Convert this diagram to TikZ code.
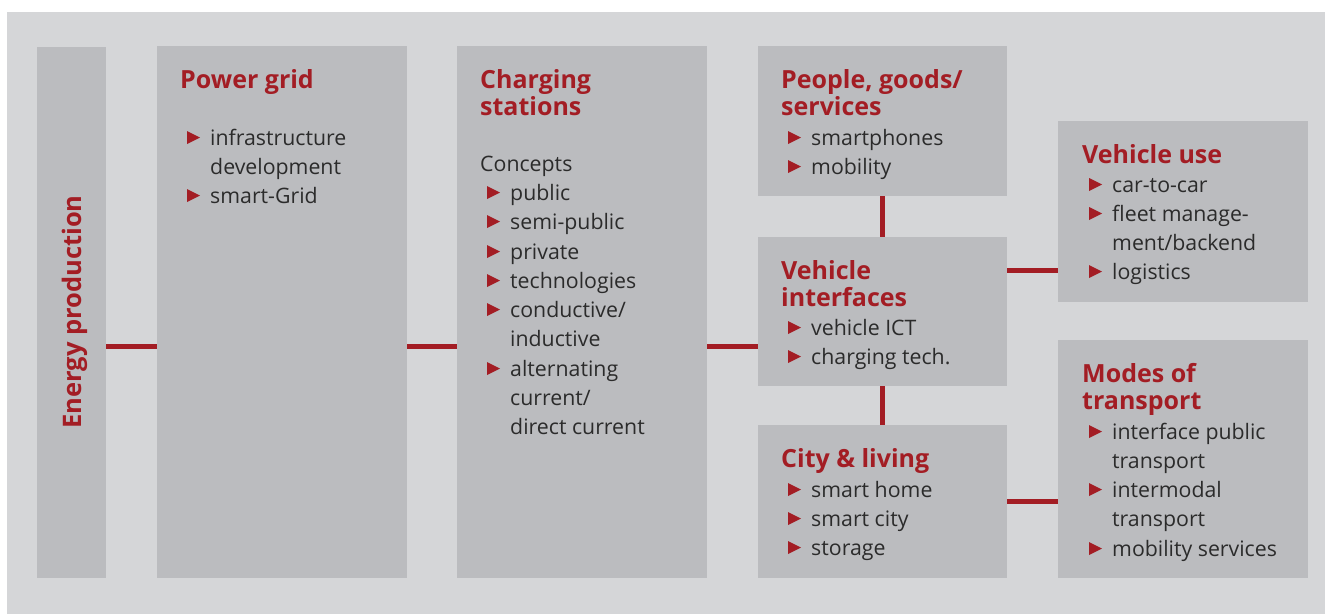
\documentclass[tikz,border=0pt]{standalone}
\usepackage{fontspec}
\setmainfont{Open Sans}
\definecolor{bgc}{HTML}{D5D6D8}
\definecolor{boxc}{HTML}{BBBCBF}
\definecolor{redc}{HTML}{A31D24}
\definecolor{txtc}{HTML}{2B2B2B}
\tikzset{
  ttl/.style={anchor=base west, inner sep=0pt, text=redc, font=\fontsize{25}{27}\selectfont\bfseries},
  itm/.style={anchor=base west, inner sep=0pt, text=txtc, font=\fontsize{21.3}{29}\selectfont},
  link/.style={draw=redc, line width=5pt},
}
\newcommand\bul[4]{%
  \fill[redc] (#2-23,#3-14) -- ++(13,6.5) -- ++(-13,6.5) -- cycle;
  \node[itm] (#1) at (#2,#3) {#4};}
\newcommand\pln[4]{\node[itm] (#1) at (#2,#3) {#4};}
\newcommand\hd[4]{\node[ttl] (#1) at (#2,#3) {#4};}
\begin{document}
\begin{tikzpicture}[x=1pt,y=-1pt]
\useasboundingbox (0,0) rectangle (1325,614);
\fill[bgc] (7,12) rectangle (1325,614);
% boxes
\fill[boxc] (37,47) rectangle (106,578);
\fill[boxc] (157,46) rectangle (407,578);
\fill[boxc] (457,46) rectangle (707,578);
\fill[boxc] (758,46) rectangle (1007,196);
\fill[boxc] (758,237) rectangle (1007,386);
\fill[boxc] (758,425) rectangle (1007,578);
\fill[boxc] (1058,121) rectangle (1308,302);
\fill[boxc] (1058,340) rectangle (1308,578);
% anchor coordinates of the boxes
\coordinate (epE) at (106,346);
\coordinate (pgW) at (157,346);
\coordinate (pgE) at (407,346);
\coordinate (csW) at (457,346);
\coordinate (csE) at (707,346);
\coordinate (viW) at (758,346);
\coordinate (peS) at (882,196);
\coordinate (viN) at (882,237);
\coordinate (viS) at (882,386);
\coordinate (ciN) at (882,425);
\coordinate (viE) at (1007,270);
\coordinate (vuW) at (1058,270);
\coordinate (ciE) at (1007,501);
\coordinate (mtW) at (1058,501);
% connectors
\draw[link] (epE) -- (pgW);
\draw[link] (pgE) -- (csW);
\draw[link] (csE) -- (viW);
\draw[link] (peS) -- (viN);
\draw[link] (viS) -- (ciN);
\draw[link] (viE) -- (vuW);
\draw[link] (ciE) -- (mtW);
% energy production
\node[ttl, anchor=center, rotate=90, font=\fontsize{25.5}{27}\selectfont\bfseries] (epT) at (75,312) {Energy production};
% power grid
\hd{pg1}{180}{88}{Power grid}
\bul{pg2}{210}{145}{infrastructure}
\pln{pg3}{210}{174}{development}
\bul{pg4}{210}{203}{smart-Grid}
% charging stations
\hd{cs1}{480}{88}{Charging}
\hd{cs2}{480}{115}{stations}
\pln{cs3}{480}{171}{Concepts}
\bul{cs4}{510}{200}{public}
\bul{cs5}{510}{229}{semi-public}
\bul{cs6}{510}{259}{private}
\bul{cs7}{510}{288}{technologies}
\bul{cs8}{510}{317}{conductive/}
\pln{cs9}{510}{346}{inductive}
\bul{cs10}{510}{376}{alternating}
\pln{cs11}{510}{405}{current/}
\pln{cs12}{510}{434}{direct current}
% people
\hd{pe1}{781}{88}{People, goods/}
\hd{pe2}{781}{115}{services}
\bul{pe3}{811}{145}{smartphones}
\bul{pe4}{811}{174}{mobility}
% vehicle interfaces
\hd{vi1}{781}{279}{Vehicle}
\hd{vi2}{781}{306}{interfaces}
\bul{vi3}{811}{335}{vehicle ICT}
\bul{vi4}{811}{364}{charging tech.}
% city
\hd{ci1}{781}{467}{City \& living}
\bul{ci2}{811}{497}{smart home}
\bul{ci3}{811}{526}{smart city}
\bul{ci4}{811}{555}{storage}
% vehicle use
\hd{vu1}{1082}{163}{Vehicle use}
\bul{vu2}{1112}{192}{car-to-car}
\bul{vu3}{1112}{221}{fleet manage-}
\pln{vu4}{1112}{250}{ment/backend}
\bul{vu5}{1112}{279}{logistics}
% modes of transport
\hd{mt1}{1082}{382}{Modes of}
\hd{mt2}{1082}{409}{transport}
\bul{mt3}{1112}{439}{interface public}
\pln{mt4}{1112}{468}{transport}
\bul{mt5}{1112}{497}{intermodal}
\pln{mt6}{1112}{526}{transport}
\bul{mt7}{1112}{556}{mobility services}
\end{tikzpicture}
\end{document}
